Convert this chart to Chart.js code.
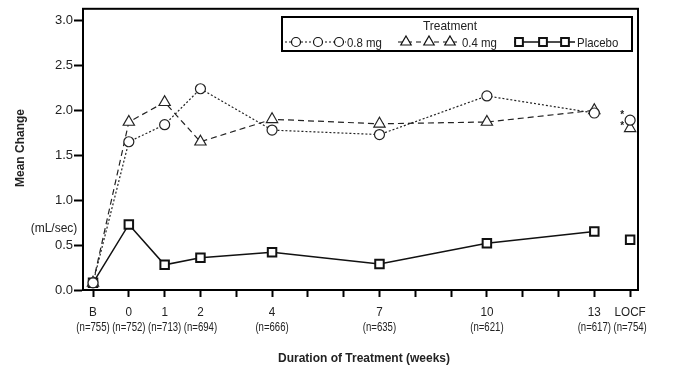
<!DOCTYPE html>
<html>
<head>
<meta charset="utf-8">
<script src="https://cdn.jsdelivr.net/npm/chart.js@4.4.1/dist/chart.umd.min.js"></script>
<style>
  html, body { margin: 0; padding: 0; background: #fff; }
  #wrap { width: 673px; height: 376px; }
</style>
</head>
<body>
<div id="wrap"><canvas id="chart" width="673" height="376"></canvas></div>
<script>
// ## data ##
const weeks = [-1, 0, 1, 2, 4, 7, 10, 13];          // -1 = baseline (B)
const dose08 = [0.08, 1.65, 1.84, 2.24, 1.78, 1.73, 2.16, 1.97];
const dose04 = [0.08, 1.87, 2.09, 1.65, 1.90, 1.85, 1.87, 2.00];
const placebo = [0.08, 0.73, 0.28, 0.36, 0.42, 0.29, 0.52, 0.65];

const locfWeek = 14;
const locf08 = [1.89];
const locf04 = [1.80];
const locfPlacebo = [0.56];

const tickWeeks = [-1, 0, 1, 2, 4, 7, 10, 13, 14];
const tickNames = ['B', '0', '1', '2', '4', '7', '10', '13', 'LOCF'];
const tickCounts = ['(n=755)', '(n=752)', '(n=713)', '(n=694)', '(n=666)', '(n=635)', '(n=621)', '(n=617)', '(n=754)'];
const yTicks = [0, 0.5, 1.0, 1.5, 2.0, 2.5, 3.0];

const seriesNames = ['0.8 mg', '0.4 mg', 'Placebo'];

const FONT = 'Liberation Sans, Arial, sans-serif';

function pts(xs, ys) {
    return xs.map((x, i) => ({ x: x, y: ys[i] }));
}

// small marker helper for the legend (same shapes as chart.js)
function marker(ctx, style, x, y, r) {
    ctx.beginPath();
    if (style === 'circle') {
        ctx.arc(x, y, r, 0, Math.PI * 2);
    } else if (style === 'triangle') {
        ctx.moveTo(x, y - r);
        ctx.lineTo(x + r * 0.866, y + r / 2);
        ctx.lineTo(x - r * 0.866, y + r / 2);
        ctx.closePath();
    } else {
        const s = Math.SQRT1_2 * r;
        ctx.rect(x - s, y - s, 2 * s, 2 * s);
    }
    ctx.fillStyle = '#fff';
    ctx.fill();
    ctx.stroke();
}

// condensed text, the x labels in the original are a narrow face
function narrowText(ctx, txt, x, y, sx) {
    ctx.save();
    ctx.translate(x, y);
    ctx.scale(sx, 1);
    ctx.fillText(txt, 0, 0);
    ctx.restore();
}

const extras = {
    id: 'extras',
    afterDraw(chart) {
        const ctx = chart.ctx;
        const a = chart.chartArea;
        const xs = chart.scales.x;
        const ys = chart.scales.y;
        ctx.save();

        // frame
        ctx.strokeStyle = '#000';
        ctx.lineWidth = 2;
        ctx.strokeRect(a.left, a.top, a.right - a.left, a.bottom - a.top);

        // x tick labels (two lines)
        ctx.fillStyle = '#222';
        ctx.font = '13px ' + FONT;
        ctx.textAlign = 'center';
        ctx.textBaseline = 'middle';
        tickWeeks.forEach((w, i) => {
            const px = xs.getPixelForValue(w);
            narrowText(ctx, tickNames[i], px, 312, 0.9);
            ctx.font = '12px ' + FONT;
            narrowText(ctx, tickCounts[i], px, 328, 0.8);
            ctx.font = '13px ' + FONT;
        });

        // axis titles
        ctx.font = 'bold 12px ' + FONT;
        ctx.fillText('Duration of Treatment (weeks)', 364, 359);
        ctx.save();
        ctx.translate(21, 148);
        ctx.rotate(-Math.PI / 2);
        ctx.fillText('Mean Change', 0, 0);
        ctx.restore();
        ctx.font = '12px ' + FONT;
        ctx.fillText('(mL/sec)', 54, 229);

        // asterisks by the LOCF points
        ctx.font = 'bold 10px ' + FONT;
        const lx = xs.getPixelForValue(locfWeek) - 8;
        ctx.fillText('*', lx, ys.getPixelForValue(locf08[0]) - 5);
        ctx.fillText('*', lx, ys.getPixelForValue(locf04[0]) - 2);

        // legend box
        const bx = 282, by = 17, bw = 350, bh = 34;
        ctx.fillStyle = '#fff';
        ctx.fillRect(bx, by, bw, bh);
        ctx.lineWidth = 2;
        ctx.strokeStyle = '#000';
        ctx.strokeRect(bx, by, bw, bh);
        ctx.fillStyle = '#222';
        ctx.font = '13px ' + FONT;
        ctx.textAlign = 'center';
        narrowText(ctx, 'Treatment', 450, 26, 0.92);

        const rowY = 42;
        const items = [
            { style: 'circle', dash: [2, 2], r: 4.5, lw: 1.2, x0: 285, x1: 346, marks: [296, 318, 339], text: 347 },
            { style: 'triangle', dash: [5, 4], r: 6, lw: 1.2, x0: 398, x1: 457, marks: [406, 429, 450], text: 462 },
            { style: 'rect', dash: [], r: 5.5, lw: 1.6, x0: 514, x1: 575, marks: [519, 543, 565], text: 577 }
        ];
        items.forEach((it, i) => {
            ctx.strokeStyle = '#111';
            ctx.lineWidth = it.lw;
            ctx.setLineDash(it.dash);
            ctx.beginPath();
            ctx.moveTo(it.x0, rowY);
            ctx.lineTo(it.x1, rowY);
            ctx.stroke();
            ctx.setLineDash([]);
            ctx.lineWidth = it.style === 'rect' ? 2 : 1.2;
            it.marks.forEach(m => marker(ctx, it.style, m, rowY, it.r));
            ctx.fillStyle = '#222';
            ctx.textAlign = 'left';
            ctx.font = '13px ' + FONT;
            narrowText(ctx, seriesNames[i], it.text, rowY + 1, 0.88);
        });

        ctx.restore();
    }
};

const ctx = document.getElementById('chart').getContext('2d');

const chart = new Chart(ctx, {
    type: 'line',
    data: {
        datasets: [
            {
                label: seriesNames[0],
                data: pts(weeks, dose08),
                borderColor: '#222',
                borderWidth: 1.2,
                borderDash: [2, 2],
                pointStyle: 'circle',
                pointRadius: 5,
                pointBorderWidth: 1.2,
                pointBackgroundColor: '#fff',
                pointBorderColor: '#222'
            },
            {
                label: seriesNames[1],
                data: pts(weeks, dose04),
                borderColor: '#222',
                borderWidth: 1.2,
                borderDash: [6, 4],
                pointStyle: 'triangle',
                pointRadius: 6.5,
                pointBorderWidth: 1.2,
                pointBackgroundColor: '#fff',
                pointBorderColor: '#222'
            },
            {
                label: seriesNames[2],
                data: pts(weeks, placebo),
                borderColor: '#111',
                borderWidth: 1.5,
                pointStyle: 'rect',
                pointRadius: 6,
                pointBorderWidth: 2,
                pointBackgroundColor: '#fff',
                pointBorderColor: '#111'
            },
            // LOCF points, not joined to the lines
            {
                data: pts([locfWeek], locf08),
                showLine: false,
                pointStyle: 'circle',
                pointRadius: 5,
                pointBorderWidth: 1.2,
                pointBackgroundColor: '#fff',
                pointBorderColor: '#222'
            },
            {
                data: pts([locfWeek], locf04),
                showLine: false,
                pointStyle: 'triangle',
                pointRadius: 6.5,
                pointBorderWidth: 1.2,
                pointBackgroundColor: '#fff',
                pointBorderColor: '#222'
            },
            {
                data: pts([locfWeek], locfPlacebo),
                showLine: false,
                pointStyle: 'rect',
                pointRadius: 6,
                pointBorderWidth: 2,
                pointBackgroundColor: '#fff',
                pointBorderColor: '#111'
            }
        ]
    },
    options: {
        responsive: false,
        animation: false,
        clip: false,
        layout: { padding: { left: 0, right: 35, top: 6, bottom: 0 } },
        elements: { line: { tension: 0 } },
        plugins: {
            legend: { display: false },
            tooltip: { enabled: false }
        },
        scales: {
            x: {
                type: 'linear',
                min: -1.28,
                max: 14.22,
                afterBuildTicks: (scale) => {
                    const t = [];
                    for (let v = -1; v <= 14; v++) t.push({ value: v });
                    scale.ticks = t;
                },
                afterFit: (scale) => { scale.height = 86; },
                border: { color: '#000', width: 2 },
                grid: { drawOnChartArea: false, drawTicks: true, tickLength: 7, tickColor: '#000', tickWidth: 2 },
                ticks: {
                    autoSkip: false,
                    maxRotation: 0,
                    minRotation: 0,
                    color: 'rgba(0,0,0,0)',   // drawn by the plugin in a condensed face
                    callback: () => ''
                }
            },
            y: {
                min: 0,
                max: 3.13,
                afterBuildTicks: (scale) => { scale.ticks = yTicks.map(v => ({ value: v })); },
                afterFit: (scale) => { scale.width = 83; },
                border: { color: '#000', width: 2 },
                grid: { drawOnChartArea: false, drawTicks: true, tickLength: 9, tickColor: '#000', tickWidth: 2 },
                ticks: {
                    padding: 1,
                    color: '#222',
                    font: { family: FONT, size: 13 },
                    callback: (v) => Number(v).toFixed(1)
                }
            }
        }
    },
    plugins: [extras]
});
</script>
</body>
</html>
